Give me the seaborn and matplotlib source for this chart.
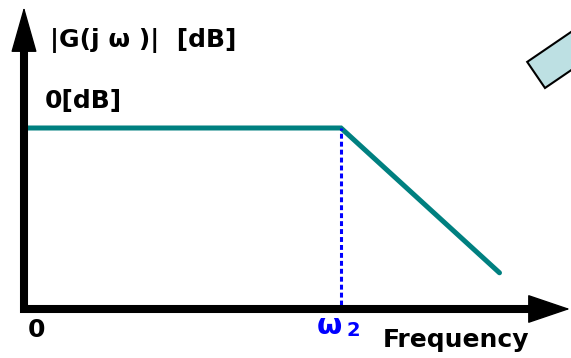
import numpy as np
import pandas as pd
import matplotlib
matplotlib.use("Agg")
import matplotlib.pyplot as plt
import seaborn as sns
from matplotlib.patches import Rectangle
from matplotlib.transforms import IdentityTransform

sns.set_style("white")
plt.rcParams['font.family'] = ['DejaVu Sans']
plt.rcParams['text.color'] = 'black'

# Bode magnitude asymptote (low-pass), frequency normalised to omega_2
freq = [0.0, 1.0, 1.5]
gain_db = [0.0, 0.0, -20.0]
omega2 = 1.0
baseline_db = -25.0

df = pd.DataFrame({"Frequency": freq, "Gain": gain_db})

fig = plt.figure(figsize=(5.71, 3.58), dpi=100)
ax = fig.add_axes([0, 0, 1, 1])
ax.set_xlim(-0.0757, 1.7256)
ax.set_ylim(-31.77, 17.68)
ax.axis("off")

# asymptote line
sns.lineplot(data=df, x="Frequency", y="Gain", color="#008080", linewidth=3.6,
             ax=ax, solid_capstyle="round", solid_joinstyle="miter")

# dotted marker at omega_2
ax.plot([omega2, omega2], [baseline_db + 0.5, 0], color="#0000ff", linewidth=2.2,
        linestyle=(0, (1.6, 1.0)))

# axes drawn as thick arrows
y_top, x_end = 16.71, 1.722
ax.plot([0, 0, 1.60], [10.9, baseline_db, baseline_db], color="black", linewidth=5.8,
        solid_capstyle="projecting", solid_joinstyle="miter")
ax.annotate("", xy=(0, y_top), xytext=(0, 10.0),
            arrowprops=dict(arrowstyle="-|>,head_length=30,head_width=8.5",
                            mutation_scale=1, lw=1, color="black", shrinkA=0, shrinkB=0))
ax.annotate("", xy=(x_end, baseline_db), xytext=(1.55, baseline_db),
            arrowprops=dict(arrowstyle="-|>,head_length=28,head_width=9.5",
                            mutation_scale=1, lw=1, color="black", shrinkA=0, shrinkB=0))

# labels
ax.text(0.082, 12.15, "|G(j \u03c9 )|  [dB]", fontsize=18, fontweight="bold",
        ha="left", va="center")
ax.text(0.066, 3.73, "0[dB]", fontsize=18, fontweight="bold", ha="left", va="center")
ax.text(0.038, -27.9, "0", fontsize=18, fontweight="bold", ha="center", va="center")
ax.text(0.962, -27.4, "\u03c9", fontsize=21, fontweight="bold", color="#0000ff",
        ha="center", va="center")
ax.text(1.040, -28.0, "2", fontsize=14, fontweight="bold", color="#0000ff",
        ha="center", va="center")
ax.text(1.132, -29.3, "Frequency", fontsize=18, fontweight="bold", ha="left", va="center")

# partially visible rotated box at the top right
ax.add_patch(Rectangle((545, 270), 80, 31.6, angle=34.3, transform=IdentityTransform(),
                       facecolor="#bde0e3", edgecolor="black", linewidth=1.5, clip_on=False))

fig.savefig("out.png", dpi=100)
